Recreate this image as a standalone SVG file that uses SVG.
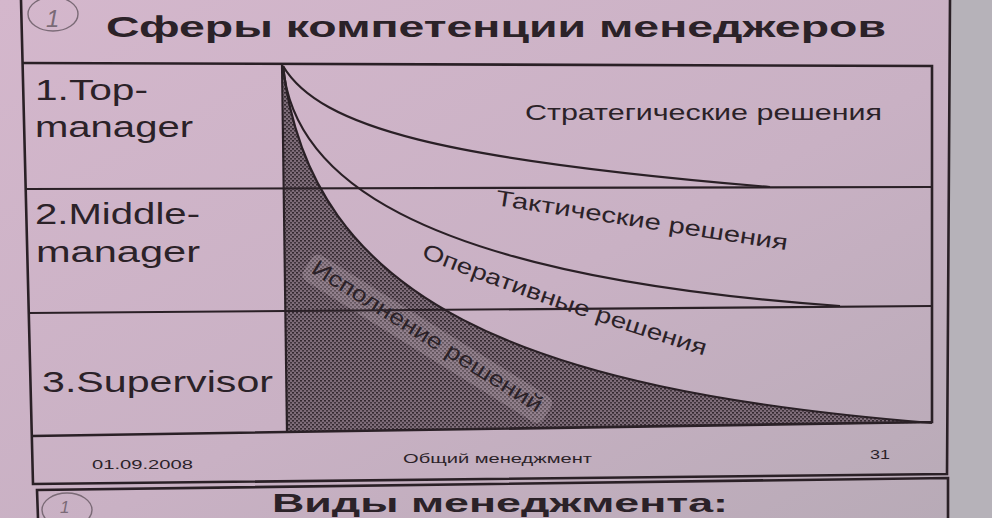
<svg xmlns="http://www.w3.org/2000/svg" width="992" height="518" viewBox="0 0 992 518">
  <defs>
    <linearGradient id="bg" x1="0" y1="0" x2="1" y2="1">
      <stop offset="0" stop-color="#d4b7cc"/>
      <stop offset="0.55" stop-color="#c9b1c4"/>
      <stop offset="1" stop-color="#b7aab6"/>
    </linearGradient>
    <pattern id="stipple" width="4" height="4" patternUnits="userSpaceOnUse">
      <rect width="4" height="4" fill="#7f6d7a"/>
      <rect x="0" y="0" width="2" height="1.6" fill="#33282f"/>
      <rect x="2" y="2" width="2" height="1.6" fill="#40343c"/>
    </pattern>
    <clipPath id="shadeClip">
      <path d="M283,66 C310,300 520,390 932,423 L287,432 Z"/>
    </clipPath>
    <path id="operPath" d="M421,257 Q520,298 706,356"/>
  </defs>
  <style>
    .ln { stroke: #2a2026; fill: none; stroke-width: 2.2; }
    .frame { stroke: #2a2026; fill: none; stroke-width: 2.6; }
    .txt { font-family: "Liberation Sans", Arial, sans-serif; fill: #2b2228; }
    .hand { stroke: #7a6a76; fill: none; stroke-width: 1.4; }
  </style>

  <rect width="992" height="518" fill="url(#bg)"/>
  <rect x="950" y="0" width="42" height="518" fill="#b6b2b9"/>

  <g id="slide-frame">
    <path class="frame" d="M21,0 L33,484 L947,474 L950,0"/>
  </g>

  <g id="title">
    <ellipse class="hand" cx="53" cy="14" rx="25" ry="17"/>
    <text class="txt" x="46" y="27" font-size="24" font-style="italic" style="fill:#7a6a76">1</text>
    <text class="txt" x="106" y="37" font-size="30" font-weight="bold" textLength="780" lengthAdjust="spacingAndGlyphs">Сферы компетенции менеджеров</text>
  </g>

  <g id="chart-shading">
    <path d="M283,66 C310,300 520,390 932,423 L287,432 Z" fill="url(#stipple)"/>
    <g clip-path="url(#shadeClip)">
      <rect x="-6" y="-20" width="282" height="30" rx="8" fill="#c9b8c3" opacity="0.28" transform="translate(310,272) rotate(31.8)"/>
    </g>
  </g>

  <g id="table">
    <path class="frame" d="M23,63 L932,66 L932,422 L32,436"/>
    <path class="ln" d="M26,189 L932,187"/>
    <path class="ln" d="M29,313 L932,306"/>
    <path class="ln" d="M282,64 L287,433"/>
  </g>

  <g id="connectors">
    <path class="ln" d="M283,66 C320,128 445,160 770,187"/>
    <path class="ln" d="M283,66 C292,170 400,275 840,306"/>
    <path class="ln" d="M283,66 C310,300 520,390 932,423"/>
  </g>

  <g id="row-top">
    <text class="txt" x="35" y="100" font-size="30" textLength="113" lengthAdjust="spacingAndGlyphs">1.Top-</text>
    <text class="txt" x="35" y="137" font-size="30" textLength="158" lengthAdjust="spacingAndGlyphs">manager</text>
  </g>
  <g id="row-middle">
    <text class="txt" x="35" y="224" font-size="30" textLength="165" lengthAdjust="spacingAndGlyphs">2.Middle-</text>
    <text class="txt" x="36" y="262" font-size="30" textLength="164" lengthAdjust="spacingAndGlyphs">manager</text>
  </g>
  <g id="row-supervisor">
    <text class="txt" x="42" y="392" font-size="30" textLength="231" lengthAdjust="spacingAndGlyphs">3.Supervisor</text>
  </g>

  <g id="zone-strategic">
    <text class="txt" x="525" y="120" font-size="22" textLength="357" lengthAdjust="spacingAndGlyphs">Стратегические решения</text>
  </g>
  <g id="zone-tactical">
    <text class="txt" font-size="22" transform="translate(495,205) rotate(8.8)" textLength="295" lengthAdjust="spacingAndGlyphs">Тактические решения</text>
  </g>
  <g id="zone-operational">
    <text class="txt" font-size="22"><textPath href="#operPath" textLength="300" lengthAdjust="spacingAndGlyphs">Оперативные решения</textPath></text>
  </g>
  <g id="zone-execution">
    <text class="txt" font-size="22" transform="translate(310,272) rotate(31.8)" textLength="267" lengthAdjust="spacingAndGlyphs">Исполнение решений</text>
  </g>

  <g id="footer">
    <text class="txt" x="92" y="469" font-size="13" textLength="101" lengthAdjust="spacingAndGlyphs">01.09.2008</text>
    <text class="txt" x="403" y="463" font-size="13" textLength="189" lengthAdjust="spacingAndGlyphs">Общий менеджмент</text>
    <text class="txt" x="870" y="459" font-size="13" textLength="20" lengthAdjust="spacingAndGlyphs">31</text>
  </g>

  <g id="next-slide">
    <path class="frame" d="M38,518 L37,490 L948,478 L948,518"/>
    <ellipse class="hand" cx="67" cy="510" rx="25" ry="17"/>
    <text class="txt" x="60" y="513" font-size="17" font-style="italic" style="fill:#7a6a76">1</text>
    <text class="txt" x="272" y="512" font-size="25" font-weight="bold" textLength="456" lengthAdjust="spacingAndGlyphs">Виды менеджмента:</text>
  </g>
</svg>
